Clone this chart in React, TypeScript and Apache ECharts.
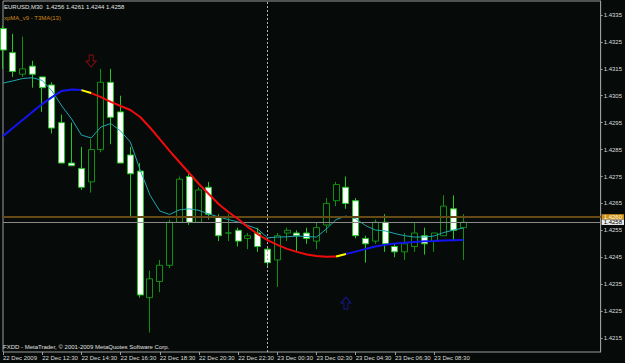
import React, { useEffect, useRef } from 'react';
import * as echarts from 'echarts';

// ---------- data ----------
const symbolName = 'EURUSD,M30';
const indicatorName = 'xpMA_v9 - T3MA(13)';
const copyrightText = 'FXDD - MetaTrader, © 2001-2009 MetaQuotes Software Corp.';

const opens = [1.4330, 1.4321, 1.4313, 1.4316, 1.4312, 1.4309, 1.4295, 1.4280, 1.4278, 1.4273,
  1.4285, 1.4310, 1.4299, 1.4283, 1.4277, 1.4230, 1.4236, 1.4242, 1.4258, 1.4275,
  1.4258, 1.4271, 1.4260, 1.4254, 1.4255, 1.4252, 1.4254, 1.4248, 1.4244, 1.4254,
  1.4254, 1.4254, 1.4251, 1.4257, 1.4266, 1.4271, 1.4266, 1.4252, 1.4251, 1.4258,
  1.4249, 1.4247, 1.4249, 1.4253, 1.4251, 1.4253, 1.4263, 1.4256];
const highs = [1.4331, 1.4328, 1.4327, 1.4318, 1.4312, 1.4310, 1.4298, 1.4295, 1.4286, 1.4289,
  1.4315, 1.4315, 1.4305, 1.4286, 1.4280, 1.4240, 1.4244, 1.4259, 1.4275, 1.4276,
  1.4271, 1.4273, 1.4261, 1.4261, 1.4256, 1.4254, 1.4256, 1.4249, 1.4254, 1.4256,
  1.4255, 1.4256, 1.4258, 1.4267, 1.4273, 1.4275, 1.4267, 1.4253, 1.4259, 1.4261,
  1.4250, 1.4254, 1.4258, 1.4256, 1.4254, 1.4268, 1.4268, 1.4261];
const lows = [1.4315, 1.4312, 1.4312, 1.4308, 1.4299, 1.4291, 1.4280, 1.4279, 1.4270, 1.4269,
  1.4284, 1.4287, 1.4280, 1.4260, 1.4230, 1.4217, 1.4232, 1.4241, 1.4258, 1.4257,
  1.4258, 1.4259, 1.4251, 1.4251, 1.4249, 1.4248, 1.4247, 1.4241, 1.4234, 1.4251,
  1.4247, 1.4250, 1.4248, 1.4254, 1.4264, 1.4263, 1.4252, 1.4243, 1.4250, 1.4247,
  1.4245, 1.4244, 1.4247, 1.4246, 1.4247, 1.4253, 1.4251, 1.4244];
const closes = [1.4322, 1.4314, 1.4315, 1.4313, 1.4308, 1.4293, 1.4280, 1.4279, 1.4271, 1.4285,
  1.4310, 1.4297, 1.4280, 1.4276, 1.4231, 1.4237, 1.4242, 1.4258, 1.4274, 1.4258,
  1.4270, 1.4261, 1.4253, 1.4254, 1.4251, 1.4253, 1.4249, 1.4243, 1.4253, 1.4255,
  1.4253, 1.4252, 1.4256, 1.4265, 1.4272, 1.4265, 1.4253, 1.4250, 1.4258, 1.4250,
  1.4247, 1.4250, 1.4254, 1.4250, 1.4254, 1.4264, 1.4255, 1.4258];

// thin cyan moving average
const maFast = [1.43097, 1.43105, 1.43114, 1.43117, 1.43107, 1.43068, 1.43012, 1.42964, 1.42904, 1.42893,
  1.42934, 1.42947, 1.42919, 1.42878, 1.42774, 1.42681, 1.42622, 1.42609, 1.42626, 1.42630,
  1.42624, 1.42611, 1.42600, 1.42590, 1.42581, 1.42568, 1.42555, 1.42522, 1.42525, 1.42526,
  1.42529, 1.42527, 1.42525, 1.42555, 1.42590, 1.42603, 1.42593, 1.42568, 1.42551, 1.42548,
  1.42538, 1.42530, 1.42525, 1.42525, 1.42529, 1.42542, 1.42551, 1.42559];

// thick xpMA T3MA(13) line
const tmaValues = [1.42900, 1.42930, 1.42960, 1.42990, 1.43019, 1.43045, 1.43068, 1.43073, 1.43071, 1.43060,
  1.43045, 1.43027, 1.43012, 1.42997, 1.42971, 1.42932, 1.42889, 1.42845, 1.42804, 1.42763,
  1.42722, 1.42685, 1.42648, 1.42618, 1.42592, 1.42562, 1.42536, 1.42514, 1.42496, 1.42481,
  1.42470, 1.42460, 1.42455, 1.42452, 1.42453, 1.42462, 1.42471, 1.42481, 1.42490, 1.42496,
  1.42501, 1.42504, 1.42507, 1.42509, 1.42510, 1.42512, 1.42513, 1.42514];
// state of each segment (bar i -> i+1): U up (blue), F flat (yellow), D down (red)
const tmaSegmentState = 'UUUUUUUUFDDDDDDDDDDDDDDDDDDDDDDDDDFUUUUUUUUUUUU'.split('');

const sellArrows = [{ bar: 9, price: 1.43179 }];
const buyArrows = [{ bar: 35, price: 1.42280 }];

const xTickLabels = ['22 Dec 2009', '22 Dec 12:30', '22 Dec 14:30', '22 Dec 16:30', '22 Dec 18:30',
  '22 Dec 20:30', '22 Dec 22:30', '23 Dec 00:30', '23 Dec 02:30', '23 Dec 04:30', '23 Dec 06:30', '23 Dec 08:30'];
const yTickValues = [1.4215, 1.4225, 1.4235, 1.4245, 1.4255, 1.4265, 1.4275, 1.4285, 1.4295, 1.4305, 1.4315, 1.4325, 1.4335];

const alertLevel = 1.4260;
const bidLevel = 1.4258;
const daySeparatorBar = 27;
const totalSlots = 62; // bars plus right chart shift
const startMinutes = 10 * 60 + 30; // 22 Dec 10:30

const categories = Array.from({ length: totalSlots }, (_, i) => {
  const m = startMinutes + 30 * i;
  const day = 22 + Math.floor(m / 1440);
  const mm = m % 1440;
  const hh = String(Math.floor(mm / 60)).padStart(2, '0');
  const mi = String(mm % 60).padStart(2, '0');
  return `${day} Dec ${hh}:${mi}`;
});

const FONT = 'Liberation Sans';

export default function App() {
  const ref = useRef<HTMLDivElement>(null);

  useEffect(() => {
    if (!ref.current) return;
    const chart = echarts.init(ref.current, undefined, { renderer: 'svg' });

    const candleData = opens.map((o, i) => [o, closes[i], lows[i], highs[i]]);
    const last = opens.length - 1;
    const title = `${symbolName}  ${opens[last].toFixed(4)} ${highs[last].toFixed(4)} ${lows[last].toFixed(4)} ${closes[last].toFixed(4)}`;

    const tmaColors: Record<string, string> = { U: '#1414f0', D: '#f00c0c', F: '#ffff00' };
    const tmaSeries = ['U', 'D', 'F'].map((state) => ({
      type: 'line',
      data: tmaValues.map((v, i) =>
        tmaSegmentState[i] === state || tmaSegmentState[i - 1] === state ? v : null),
      symbol: 'none',
      connectNulls: false,
      lineStyle: { color: tmaColors[state], width: 2 },
      z: state === 'F' ? 6 : 5,
      silent: true,
    }));

    const tickShown = (i: number) => i % 4 === 0 && i / 4 < xTickLabels.length;
    const firstCat = categories[0];
    const lastCat = categories[categories.length - 1];

    const levelLine = (level: number, lineColor: string, lineWidth: number, bg: string, fg: string) => [
      { coord: [firstCat, level], lineStyle: { color: lineColor, width: lineWidth, type: 'solid' } },
      {
        coord: [lastCat, level],
        label: {
          show: true, position: 'end', distance: 1, formatter: level.toFixed(4),
          backgroundColor: bg, color: fg, fontSize: 6, lineHeight: 5.4,
          padding: [0, 2, 0, 2], fontFamily: FONT,
        },
      },
    ];

    chart.setOption({
      animation: false,
      backgroundColor: '#060a08',
      grid: {
        left: 2, right: 23, top: 1, bottom: 11,
        show: true, borderColor: '#9c9c9c', borderWidth: 1,
      },
      xAxis: {
        type: 'category',
        data: categories,
        boundaryGap: false,
        axisLine: { show: false },
        axisTick: { show: true, interval: (i: number) => tickShown(i), length: 3, lineStyle: { color: '#9c9c9c' } },
        axisLabel: {
          interval: (i: number) => tickShown(i),
          formatter: (_v: string, i: number) => (tickShown(i) ? xTickLabels[i / 4] : ''),
          align: 'left', fontSize: 6, color: '#dcdcdc', margin: 3, fontFamily: FONT,
        },
        splitLine: { show: false },
      },
      yAxis: {
        type: 'value',
        position: 'right',
        min: 1.42098,
        max: 1.43402,
        scale: true,
        axisLine: { show: true, lineStyle: { color: '#9c9c9c' } },
        axisTick: { show: true, length: 2, customValues: yTickValues, lineStyle: { color: '#9c9c9c' } },
        axisLabel: {
          customValues: yTickValues,
          formatter: (v: number) => v.toFixed(4),
          fontSize: 6, color: '#dcdcdc', margin: 3, fontFamily: FONT,
        },
        splitLine: { show: false },
      },
      series: [
        {
          type: 'line',
          data: maFast,
          symbol: 'none',
          lineStyle: { opacity: 0 },
          z: 1,
          silent: true,
          markLine: {
            symbol: 'none',
            silent: true,
            animation: false,
            precision: 4,
            data: [
              levelLine(alertLevel, '#654a16', 2, '#cf9418', '#fff6e0'),
              levelLine(bidLevel, '#8a8a8a', 1, '#ececec', '#000000'),
              {
                xAxis: categories[daySeparatorBar],
                lineStyle: { color: '#b4b4b4', width: 1, type: [2, 2] },
                label: { show: false },
              },
            ],
          },
        },
        {
          type: 'candlestick',
          data: candleData,
          barWidth: 6.5,
          z: 3,
          silent: true,
          itemStyle: {
            color: '#060a08',
            color0: '#ffffff',
            borderColor: '#129012',
            borderColor0: '#22c822',
            borderWidth: 1,
          },
        },
        {
          type: 'line',
          data: maFast,
          symbol: 'none',
          lineStyle: { color: '#1fa7b0', width: 1 },
          z: 4,
          silent: true,
        },
        ...tmaSeries,
        {
          type: 'scatter',
          data: sellArrows.map((a) => [a.bar, a.price]),
          symbol: 'path://M3,0L7,0L7,6L10,6L5,12L0,6L3,6Z',
          symbolSize: [10, 12],
          itemStyle: { color: 'rgba(0,0,0,0)', borderColor: '#b00c0c', borderWidth: 1 },
          z: 7,
          silent: true,
        },
        {
          type: 'scatter',
          data: buyArrows.map((a) => [a.bar, a.price]),
          symbol: 'path://M5,0L10,6L7,6L7,12L3,12L3,6L0,6Z',
          symbolSize: [10, 12],
          itemStyle: { color: 'rgba(0,0,0,0)', borderColor: '#1c1caa', borderWidth: 1 },
          z: 7,
          silent: true,
        },
      ],
      graphic: [
        {
          type: 'text', x: 4, y: 7, silent: true,
          style: { text: title, fill: '#e4e4e4', fontSize: 6, fontFamily: FONT, verticalAlign: 'middle' },
        },
        {
          type: 'text', x: 4, y: 18, silent: true,
          style: { text: indicatorName, fill: '#d0861a', fontSize: 6, fontFamily: FONT, verticalAlign: 'middle' },
        },
        {
          type: 'text', x: 3, y: 347, silent: true,
          style: { text: copyrightText, fill: '#e0e0e0', fontSize: 6, fontFamily: FONT, verticalAlign: 'middle' },
        },
      ],
    });

    return () => chart.dispose();
  }, []);

  return <div ref={ref} style={{ position: 'fixed', left: 0, top: 0, width: 625, height: 363 }} />;
}
